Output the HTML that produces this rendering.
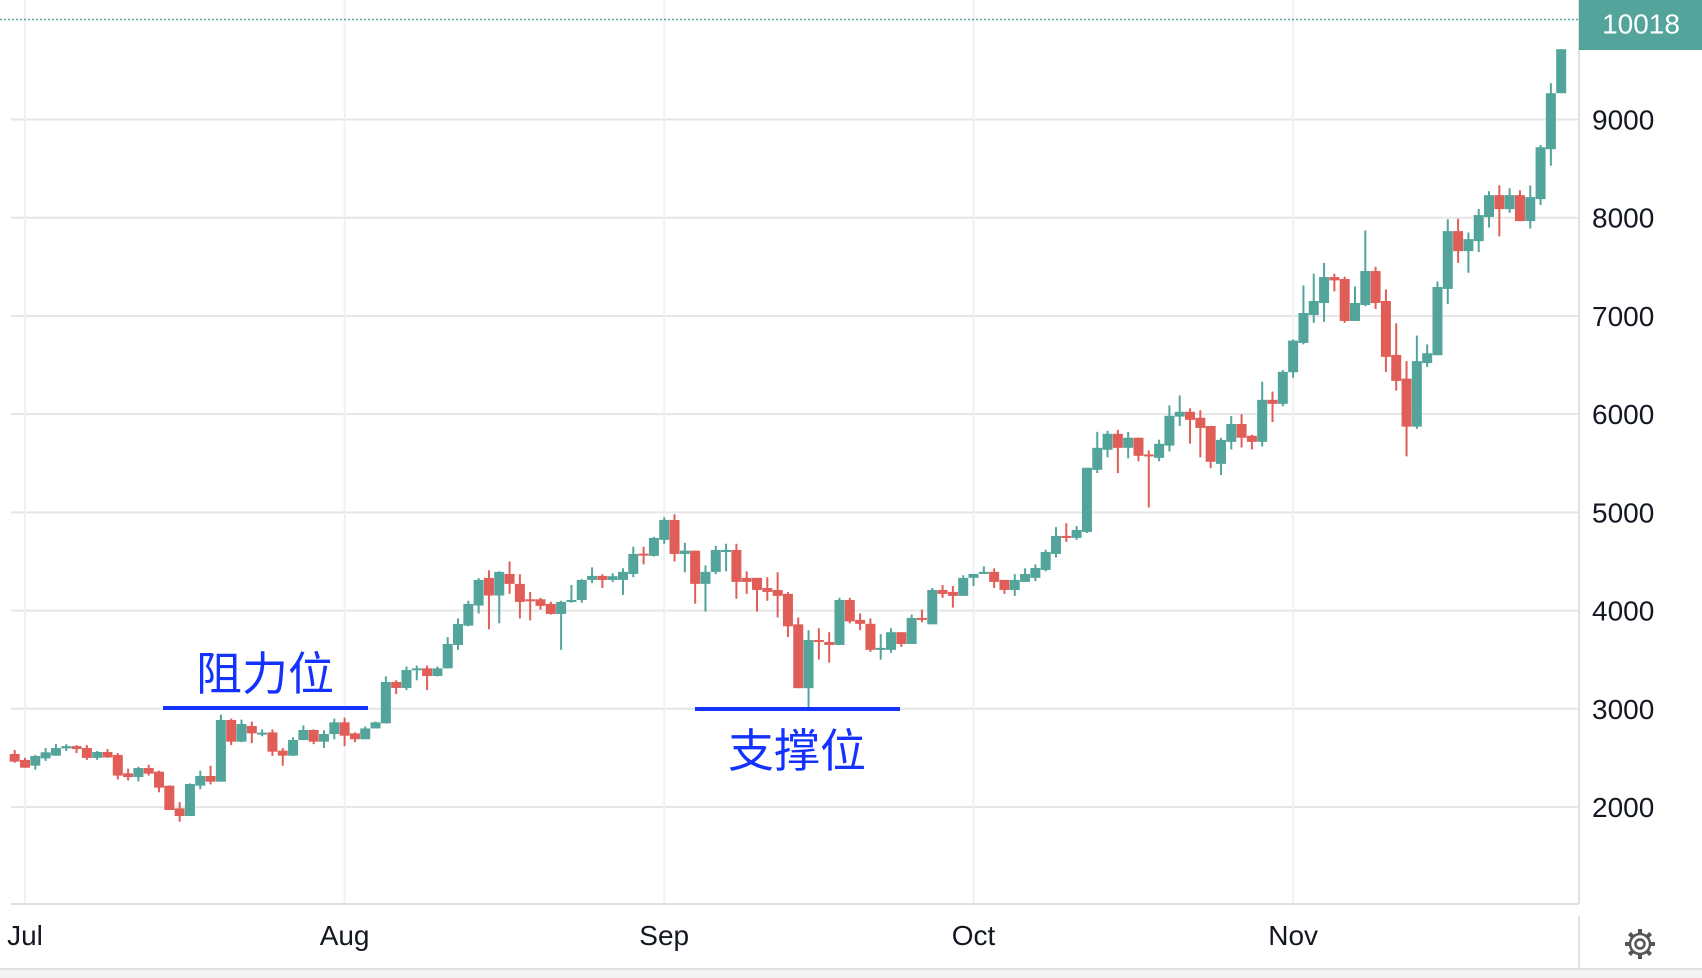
<!DOCTYPE html>
<html><head><meta charset="utf-8"><style>
html,body{margin:0;padding:0;background:#fff;}
svg{display:block;font-family:"Liberation Sans","Noto Sans CJK SC",sans-serif;}
</style></head><body>
<svg id="chart" width="1702" height="978" viewBox="0 0 1702 978" xmlns="http://www.w3.org/2000/svg">
<g id="grid"></g>
<g id="candles"></g>
<g id="axes"></g>
<line x1="163" y1="708" x2="368" y2="708" stroke="#1432ff" stroke-width="4"/>
<text x="265" y="690" font-size="46" fill="#1432ff" text-anchor="middle" font-family="'Noto Sans CJK SC',sans-serif">阻力位</text>
<line x1="695" y1="709" x2="900" y2="709" stroke="#1432ff" stroke-width="4"/>
<text x="797" y="767" font-size="46" fill="#1432ff" text-anchor="middle" font-family="'Noto Sans CJK SC',sans-serif">支撑位</text>
<g transform="translate(1640,944)" fill="none" stroke="#555" stroke-width="2.5">
<circle r="10"/><circle r="4.5"/>
<g stroke-width="4" stroke-linecap="butt">
<line x1="0" y1="-10" x2="0" y2="-15"/><line x1="0" y1="10" x2="0" y2="15"/>
<line x1="-10" y1="0" x2="-15" y2="0"/><line x1="10" y1="0" x2="15" y2="0"/>
<line x1="7" y1="7" x2="10.6" y2="10.6"/><line x1="-7" y1="-7" x2="-10.6" y2="-10.6"/>
<line x1="7" y1="-7" x2="10.6" y2="-10.6"/><line x1="-7" y1="7" x2="-10.6" y2="10.6"/>
</g></g>
</svg>
<script>
const opens=[2540,2479,2421,2495,2523,2597,2620,2600,2500,2560,2530,2343,2305,2397,2360,2217,1986,1908,2217,2316,2258,2886,2665,2825,2750,2760,2574,2523,2682,2784,2665,2743,2862,2750,2690,2800,2852,3273,3212,3395,3412,3334,3412,3650,3847,4051,4333,4153,4373,4272,4115,4115,4068,3966,4088,4108,4312,4353,4312,4312,4373,4580,4557,4720,4923,4577,4610,4272,4394,4600,4617,4333,4333,4230,4210,4170,3860,3210,3700,3680,3650,4108,3905,3865,3600,3600,3780,3660,3925,3860,4210,4190,4150,4333,4373,4394,4312,4210,4292,4333,4414,4577,4760,4740,4801,5433,5637,5800,5657,5760,5590,5555,5680,5975,6024,5963,5880,5494,5718,5900,5780,5718,6146,6105,6427,6725,7010,7132,7396,7376,6949,7111,7457,7152,6603,6362,5873,6520,6600,7275,7864,7660,7762,8007,8230,8088,8230,7966,8190,8698,9268];
const closes=[2462,2400,2519,2557,2600,2620,2590,2500,2560,2505,2320,2305,2397,2340,2197,1970,1908,2234,2316,2258,2886,2665,2845,2750,2757,2563,2523,2682,2784,2665,2743,2862,2726,2690,2800,2862,3273,3212,3395,3412,3334,3412,3660,3863,4068,4312,4153,4394,4272,4088,4100,4048,3966,4088,4108,4312,4353,4312,4350,4394,4577,4570,4740,4923,4577,4610,4272,4394,4617,4617,4292,4292,4210,4190,4150,3840,3210,3700,3680,3650,4108,3890,3865,3600,3620,3780,3660,3925,3910,4210,4170,4150,4333,4373,4394,4292,4210,4312,4373,4434,4597,4760,4740,4821,5454,5657,5800,5657,5760,5576,5580,5698,5983,6024,5942,5860,5515,5738,5900,5760,5718,6146,6105,6431,6749,7030,7152,7396,7362,6949,7132,7457,7132,6583,6339,5873,6540,6620,7295,7864,7660,7782,8027,8230,8088,8230,7966,8210,8718,9268,9716];
const highs=[2580,2500,2530,2600,2640,2640,2630,2630,2570,2590,2550,2390,2410,2430,2370,2220,2050,2240,2370,2420,2940,2900,2890,2870,2790,2790,2600,2710,2830,2790,2780,2900,2910,2760,2820,2870,3330,3290,3430,3440,3440,3430,3730,3920,4100,4330,4410,4400,4500,4370,4190,4130,4090,4100,4260,4320,4440,4370,4380,4430,4650,4650,4750,4950,4980,4690,4610,4460,4660,4680,4680,4400,4333,4340,4390,4190,3930,3800,3820,3780,4130,4130,3970,3920,3760,3820,3780,3960,4010,4230,4260,4250,4360,4373,4450,4430,4312,4370,4430,4470,4620,4850,4890,4860,5454,5820,5830,5840,5820,5760,5630,5740,6090,6190,6060,6040,5880,5760,5980,6000,5790,6330,6230,6450,6760,7310,7430,7540,7430,7400,7300,7870,7500,7270,6925,6540,6800,6710,7350,7985,7990,7850,8090,8270,8330,8300,8280,8330,8740,9370,9716];
const lows=[2450,2400,2380,2470,2520,2570,2550,2480,2480,2500,2280,2270,2260,2320,2150,1970,1850,1908,2180,2230,2258,2630,2660,2650,2720,2520,2420,2520,2680,2640,2600,2690,2620,2660,2690,2800,2850,3150,3190,3290,3190,3330,3410,3600,3840,3970,3810,3870,4170,3920,3900,4010,3960,3600,4080,4080,4280,4230,4290,4160,4340,4470,4550,4680,4500,4390,4070,3990,4370,4400,4120,4170,3990,4100,3930,3730,3210,3000,3500,3470,3650,3870,3800,3580,3500,3570,3630,3660,3880,3860,4130,4030,4150,4250,4373,4230,4170,4150,4292,4300,4400,4540,4700,4720,4790,5400,5560,5400,5550,5520,5050,5520,5620,5880,5700,5560,5450,5380,5640,5660,5640,5670,5920,6080,6370,6710,6930,6940,7250,6930,6949,7100,7070,6430,6240,5570,5850,6480,6600,7120,7540,7440,7650,7900,7810,8050,7966,7890,8130,8530,9268];
const priceTicks=[2000,3000,4000,5000,6000,7000,8000,9000];
const monthLabels=["Jul","Aug","Sep","Oct","Nov"];
const monthDays=[0,31,62,92,123];
const lastPrice=10018;
const firstDay=-1;

const NS="http://www.w3.org/2000/svg";
const PLOT_LEFT=11, PLOT_RIGHT=1579, AXIS_Y=904;
function yScale(p){return 807-(p-2000)*0.09821;}
function xScale(d){return 25+d*10.31;}
function mk(tag,attrs,parent){const e=document.createElementNS(NS,tag);for(const k in attrs)e.setAttribute(k,attrs[k]);parent.appendChild(e);return e;}

const grid=document.getElementById('grid');
const axes=document.getElementById('axes');
const cg=document.getElementById('candles');

priceTicks.forEach(p=>{
  const y=yScale(p);
  const l=mk('line',{x1:PLOT_LEFT,x2:PLOT_RIGHT,y1:y,y2:y,stroke:'#e6e6e6','stroke-width':2},grid);
  
  
  const t=mk('text',{x:1592,y:y+10,'font-size':28,fill:'#131722'},axes);
  t.textContent=String(p);
  
  
});
monthDays.forEach((d,i)=>{
  const x=xScale(d);
  const l=mk('line',{x1:x,x2:x,y1:0,y2:AXIS_Y,stroke:'#eef1f5','stroke-width':2},grid);
  
  
  const t=mk('text',{x:x,y:945,'font-size':28,fill:'#131722','text-anchor':'middle'},axes);
  t.textContent=monthLabels[i];
  
  
});
let a=mk('line',{x1:PLOT_LEFT,x2:PLOT_RIGHT,y1:AXIS_Y,y2:AXIS_Y,stroke:'#e0e0e0','stroke-width':2},axes);


a=mk('line',{x1:PLOT_RIGHT,x2:PLOT_RIGHT,y1:0,y2:AXIS_Y,stroke:'#e0e0e0','stroke-width':2},axes);


a=mk('line',{x1:PLOT_RIGHT,x2:PLOT_RIGHT,y1:916,y2:969,stroke:'#e0e0e0','stroke-width':2},axes);


a=mk('rect',{x:0,y:969,width:1702,height:9,fill:'#f3f3f3'},axes);


a=mk('line',{x1:0,x2:1702,y1:969,y2:969,stroke:'#e0e0e0','stroke-width':2},axes);



opens.forEach((o,i)=>{
  const c=closes[i], d=firstDay+i, x=xScale(d);
  const col=c>=o?'#53a59b':'#e05e57';
  const w=mk('rect',{x:x-1,y:yScale(highs[i]),width:2,height:Math.max(1,yScale(lows[i])-yScale(highs[i])),fill:col},cg);
  
  
  const top=yScale(Math.max(o,c)), bot=yScale(Math.min(o,c));
  const b=mk('rect',{x:x-5,y:top,width:10,height:Math.max(2,bot-top),fill:col},cg);
  
  
});

const ly=yScale(lastPrice);
let e=mk('line',{x1:0,x2:PLOT_RIGHT,y1:ly,y2:ly,stroke:'#53a59b','stroke-width':1.5,'stroke-dasharray':'2 2'},axes);


e=mk('rect',{x:PLOT_RIGHT,y:0,width:1702-PLOT_RIGHT,height:50,fill:'#53a59b'},axes);


e=mk('text',{x:1641,y:ly+14,'font-size':28,fill:'#fff','text-anchor':'middle'},axes);
e.textContent=String(lastPrice);


</script>
</body></html>
